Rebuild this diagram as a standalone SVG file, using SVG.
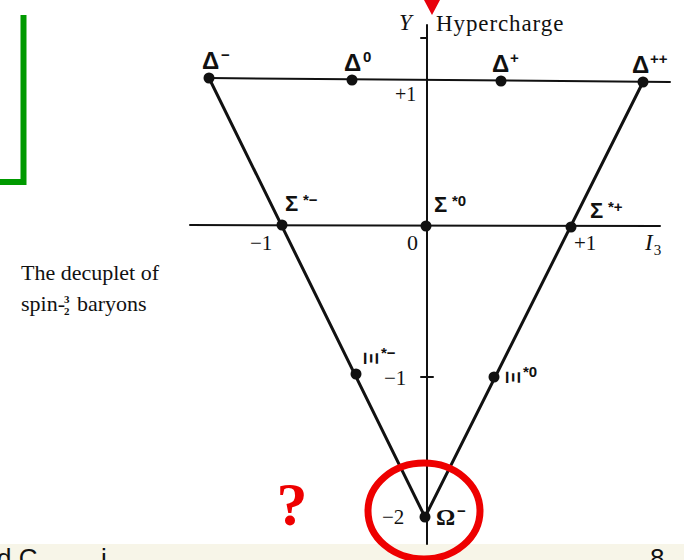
<svg xmlns="http://www.w3.org/2000/svg" width="684" height="560" viewBox="0 0 684 560">
<style>
.ln{stroke:#111;fill:none;stroke-linecap:round}
.ax{stroke-width:2}
.ed{stroke-width:3}
.dot{fill:#111}
.gk{font-family:"Liberation Sans","DejaVu Sans",sans-serif;font-weight:bold;fill:#111}
.dl{font-size:24px}
.sg{font-size:22px}
.sup{font-size:15px}
.sr{font-family:"Liberation Serif","DejaVu Serif",serif;fill:#111}
.num{font-size:21px}
.it{font-style:italic}
</style>
<rect width="684" height="560" fill="#fff"/>
<rect x="0" y="544" width="684" height="16" fill="#f7f5e8"/>
<g id="bottom-text" font-family="Liberation Sans, sans-serif" font-size="26" fill="#111">
<text x="-3" y="567">d C</text>
<text x="101" y="567">i</text>
<text x="650" y="567">8</text>
</g>
<g id="green-bracket"><path d="M23.5 15 V182 H0" fill="none" stroke="#009a00" stroke-width="6"/></g>
<g id="connectors">
<line class="ln ax" x1="427" y1="25" x2="427" y2="544"/>
<line class="ln ax" x1="421" y1="38" x2="427" y2="38"/>
<line class="ln ax" x1="209" y1="78" x2="670" y2="82"/>
<line class="ln ax" x1="190" y1="225" x2="660" y2="226"/>
<line class="ln ax" x1="421" y1="377" x2="433" y2="377"/>
<line class="ln ed" x1="209" y1="78" x2="425" y2="517"/>
<line class="ln ed" x1="643" y1="82" x2="425" y2="517"/>
</g>
<g id="axis-labels">
<text class="sr it" x="399" y="30" style="font-size:23px">Y</text>
<text class="sr" x="436" y="31" style="font-size:23px;letter-spacing:0.9px">Hypercharge</text>
<text class="sr num" x="395" y="101" style="font-size:20px">+1</text>
<text class="sr num" x="250" y="250">−1</text>
<text class="sr num" x="407" y="250" style="font-size:22px">0</text>
<text class="sr num" x="574" y="250">+1</text>
<text class="sr it" x="645" y="250" style="font-size:23px">I<tspan style="font-size:15px;font-style:normal" dx="1" dy="5">3</tspan></text>
<text class="sr num" x="384" y="385">−1</text>
<text class="sr num" x="382" y="524">−2</text>
</g>
<g id="delta-minus"><circle class="dot" cx="209" cy="78" r="5.5"/><text class="gk dl" x="202" y="69">Δ</text><text class="gk sup" x="221" y="60">−</text></g>
<g id="delta-zero"><circle class="dot" cx="352" cy="80" r="5.5"/><text class="gk dl" x="344" y="71">Δ</text><text class="gk sup" x="363" y="62">0</text></g>
<g id="delta-plus"><circle class="dot" cx="501" cy="81" r="5.5"/><text class="gk dl" x="492" y="72">Δ</text><text class="gk sup" x="510" y="63">+</text></g>
<g id="delta-plusplus"><circle class="dot" cx="643" cy="82" r="5.5"/><text class="gk dl" x="632" y="73">Δ</text><text class="gk sup" x="650" y="64">++</text></g>
<g id="sigma-minus"><circle class="dot" cx="282" cy="225" r="5.5"/><text class="gk sg" x="285" y="211">Σ</text><text class="gk sup" x="303" y="205">*−</text></g>
<g id="sigma-zero"><circle class="dot" cx="426" cy="226" r="5.5"/><text class="gk sg" x="434" y="212">Σ</text><text class="gk sup" x="452" y="206">*0</text></g>
<g id="sigma-plus"><circle class="dot" cx="571" cy="227" r="5.5"/><text class="gk sg" x="590" y="218">Σ</text><text class="gk sup" x="608" y="212">*+</text></g>
<g id="xi-minus"><circle class="dot" cx="356" cy="374" r="5.5"/><text class="gk" transform="translate(371 360) rotate(90)" x="-8" y="7" style="font-size:20px">Ξ</text><text class="gk sup" x="381" y="358">*−</text></g>
<g id="xi-zero"><circle class="dot" cx="494" cy="377" r="5.5"/><text class="gk" transform="translate(513 379) rotate(90)" x="-8" y="7" style="font-size:20px">Ξ</text><text class="gk sup" x="523" y="377">*0</text></g>
<g id="omega-minus"><circle class="dot" cx="425" cy="517" r="5.5"/><text class="sr" x="436" y="525" style="font-size:24px;font-weight:bold">Ω</text><text class="gk sup" x="457" y="516">−</text></g>
<g id="caption">
<text class="sr" x="21" y="280" style="font-size:22px">The decuplet of</text>
<text class="sr" x="21" y="311" style="font-size:22px">spin-</text>
<text class="sr" x="64" y="303" style="font-size:11px;font-weight:bold">3</text>
<text class="sr" x="64" y="315" style="font-size:11px;font-weight:bold">2</text>
<text class="sr" x="77" y="311" style="font-size:22px">baryons</text>
</g>
<g id="annotations">
<path d="M424 0 L440 0 L432 15 Z" fill="#e8000b"/>
<ellipse cx="424" cy="511" rx="56" ry="48" fill="none" stroke="#ee0000" stroke-width="7"/>
<text x="292" y="525" text-anchor="middle" font-family="Liberation Serif, serif" font-weight="bold" font-size="62" fill="#ee0000">?</text>
</g>
</svg>
